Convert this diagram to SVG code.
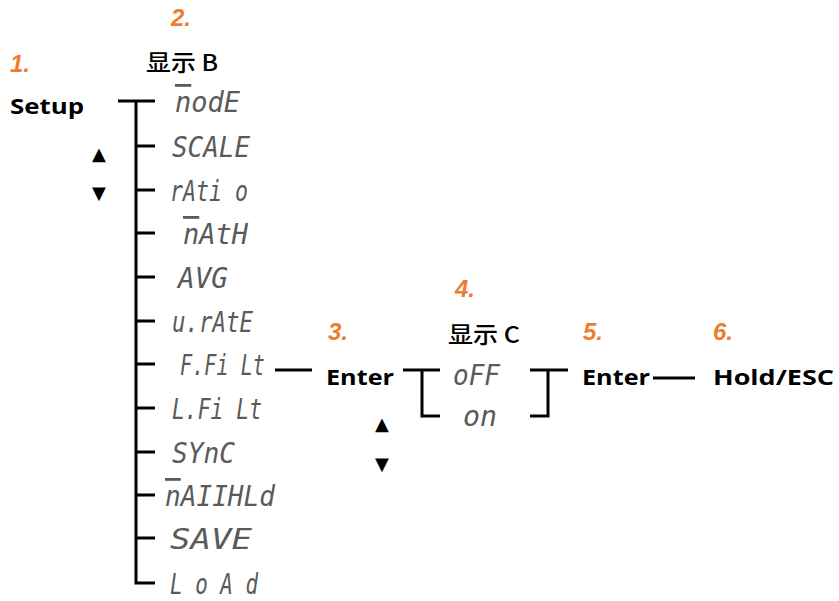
<svg xmlns="http://www.w3.org/2000/svg" width="839" height="601" viewBox="0 0 839 601">
<style>
.num{font-family:"Liberation Sans",Arial,sans-serif;font-size:24px;font-weight:bold;font-style:italic;fill:#ED7D31}
.lbl{font-family:"Open Sans","Liberation Sans",Arial,sans-serif;font-size:21px;font-weight:bold;fill:#000}
.cjk{font-family:"Noto Sans CJK SC",sans-serif;font-size:23px;font-weight:500;fill:#000}
.seg{font-family:"DejaVu Sans Mono","Liberation Mono",monospace;font-size:28px;font-style:italic;fill:#5a5a5a}
.ov{text-decoration:overline}
.arr{font-family:"DejaVu Sans",sans-serif;font-size:18px;fill:#000}
.ln{stroke:#000;stroke-width:3;fill:none}
</style>
<rect width="839" height="601" fill="#fff"/>
<g id="connectors">
<path class="ln" d="M118 101H155M136 99.5V583M136 146H155M136 190H155M136 233H155M136 277H155M136 321H155M136 364H155M136 408H155M136 452H155M136 495H155M136 538H155M134.5 583H155"/>
<path class="ln" d="M275 370H312"/>
<path class="ln" d="M403 370H440M422 368.5V416H440"/>
<path class="ln" d="M530 370H568M548 368.5V416H530"/>
<path class="ln" d="M653 378H695"/>
</g>
<g id="step1"><text class="num" x="10" y="72">1.</text><text class="lbl" x="10" y="114" textLength="74" lengthAdjust="spacingAndGlyphs">Setup</text><text class="arr" x="92" y="160">▲</text><text class="arr" x="92" y="199">▼</text></g>
<g id="step2"><text class="num" x="171" y="26">2.</text><text class="cjk" x="146" y="71" textLength="72" lengthAdjust="spacingAndGlyphs">显示 B</text></g>
<g id="menuB">
<text class="seg" x="175" y="112" textLength="65" lengthAdjust="spacingAndGlyphs"><tspan class="ov">n</tspan>odE</text>
<text class="seg" x="172" y="157" textLength="78" lengthAdjust="spacingAndGlyphs">SCALE</text>
<text class="seg" x="170" y="201" textLength="78" lengthAdjust="spacingAndGlyphs">rAti o</text>
<text class="seg" x="183" y="244" textLength="65" lengthAdjust="spacingAndGlyphs"><tspan class="ov">n</tspan>AtH</text>
<text class="seg" x="178" y="288" textLength="50" lengthAdjust="spacingAndGlyphs">AVG</text>
<text class="seg" x="172" y="332" textLength="81" lengthAdjust="spacingAndGlyphs">u.rAtE</text>
<text class="seg" x="180" y="375" textLength="85" lengthAdjust="spacingAndGlyphs">F.Fi Lt</text>
<text class="seg" x="172" y="419" textLength="90" lengthAdjust="spacingAndGlyphs">L.Fi Lt</text>
<text class="seg" x="172" y="463" textLength="63" lengthAdjust="spacingAndGlyphs">SYnC</text>
<text class="seg" x="165" y="506" textLength="110" lengthAdjust="spacingAndGlyphs"><tspan class="ov">n</tspan>AIIHLd</text>
<text class="seg" x="170" y="549" textLength="82" lengthAdjust="spacingAndGlyphs">SAVE</text>
<text class="seg" x="170" y="594" textLength="88" lengthAdjust="spacingAndGlyphs">L o A d</text>
</g>
<g id="step3"><text class="num" x="328" y="340">3.</text><text class="lbl" x="326" y="385" textLength="68" lengthAdjust="spacingAndGlyphs">Enter</text><text class="arr" x="375" y="430">▲</text><text class="arr" x="375" y="470">▼</text></g>
<g id="step4"><text class="num" x="455" y="297">4.</text><text class="cjk" x="448" y="343" textLength="72" lengthAdjust="spacingAndGlyphs">显示 C</text><text class="seg" x="453" y="385" textLength="47" lengthAdjust="spacingAndGlyphs">oFF</text><text class="seg" x="463" y="426" textLength="34" lengthAdjust="spacingAndGlyphs">on</text></g>
<g id="step5"><text class="num" x="583" y="340">5.</text><text class="lbl" x="582" y="385" textLength="68" lengthAdjust="spacingAndGlyphs">Enter</text></g>
<g id="step6"><text class="num" x="713" y="340">6.</text><text class="lbl" x="713" y="385" textLength="121" lengthAdjust="spacingAndGlyphs">Hold/ESC</text></g>
</svg>
